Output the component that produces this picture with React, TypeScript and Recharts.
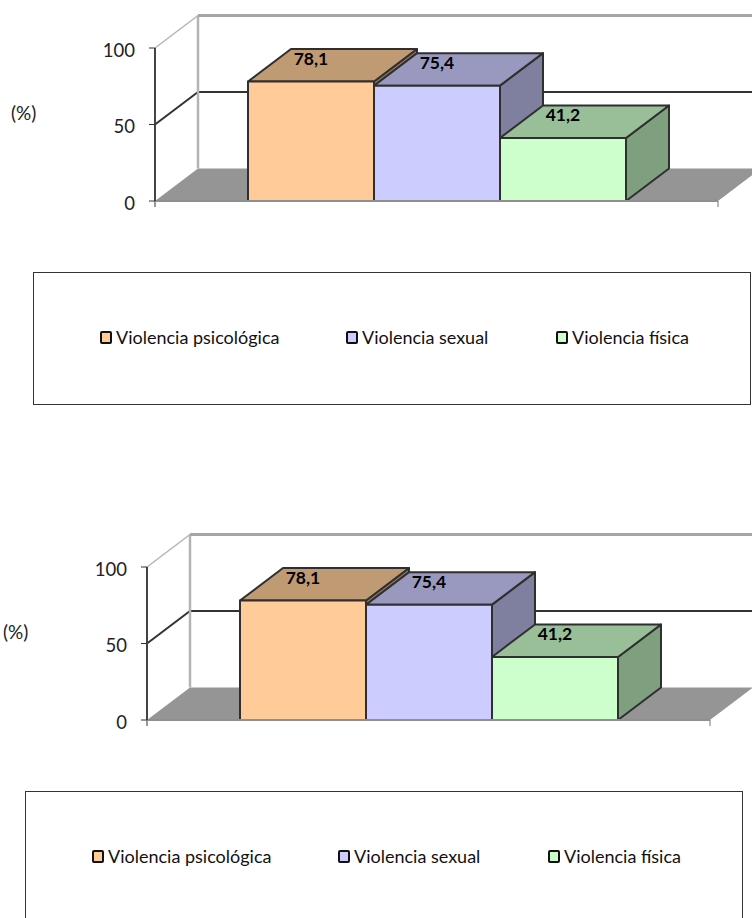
import React from "react";
import {
  Bar,
  BarChart,
  LabelList,
  Legend,
  ReferenceLine,
  XAxis,
  YAxis,
} from "recharts";

const categories = ["Violencia"];
const psicologica = [78.1];
const sexual = [75.4];
const fisica = [41.2];
const yTicks = [0, 50, 100];

const chartData = categories.map((name, i) => ({
  name,
  psicologica: psicologica[i],
  sexual: sexual[i],
  fisica: fisica[i],
}));

const FONT = "Lato, 'Open Sans', sans-serif";
// 3d depth of the excel style box
const DX = 43;
const DY = -32.5;
const PLOT_TOP = 48;
const PLOT_BOTTOM = 201;
const LEGEND_H = 133;
const CHART_W = 760;
const CHART_H = PLOT_BOTTOM + 71 + LEGEND_H;

const Box3D = (props: any) => {
  const { x, y, width, height, fill, topFill, sideFill } = props;
  const r = x + width;
  const b = y + height;
  const line = { stroke: "#2f2f2f", strokeWidth: 2, strokeLinejoin: "round" as const };
  return (
    <g>
      <polygon
        points={`${r},${y} ${r + DX},${y + DY} ${r + DX},${b + DY} ${r},${b}`}
        fill={sideFill}
        {...line}
      />
      <polygon
        points={`${x},${y} ${x + DX},${y + DY} ${r + DX},${y + DY} ${r},${y}`}
        fill={topFill}
        {...line}
      />
      <rect x={x} y={y} width={width} height={height} fill={fill} {...line} />
    </g>
  );
};

const FloorShape = ({ x1, y1, x2 }: any) => (
  <g>
    <polygon
      points={`${x1},${y1} ${x2},${y1} ${x2 + DX},${y1 + DY} ${x1 + DX},${y1 + DY}`}
      fill="#959595"
    />
    <line x1={x2} y1={y1} x2={x2} y2={y1 + 6} stroke="#777" strokeWidth={1} />
    <line x1={x1} y1={y1} x2={x1} y2={y1 + 6} stroke="#333" strokeWidth={1} />
  </g>
);

const GridShape = ({ x1, y1, x2 }: any) => (
  <g fill="none" stroke="#333" strokeWidth={2}>
    <polyline points={`${x1},${y1} ${x1 + DX},${y1 + DY} ${x2 + DX},${y1 + DY}`} />
  </g>
);

const TopShape = ({ x1, y1, x2 }: any) => (
  <g fill="none">
    <line
      x1={x1 + DX}
      y1={y1 + DY}
      x2={x1 + DX}
      y2={y1 + DY + (PLOT_BOTTOM - PLOT_TOP)}
      stroke="#b4b4b4"
      strokeWidth={2.5}
    />
    <line x1={x1} y1={y1} x2={x1 + DX} y2={y1 + DY} stroke="#b4b4b4" strokeWidth={1.5} />
    <line x1={x1 + DX} y1={y1 + DY} x2={x2 + DX} y2={y1 + DY} stroke="#a6a6a6" strokeWidth={3} />
  </g>
);

const LegendBox = ({ payload }: any) => {
  const slots = [67, 313, 523];
  return (
    <div
      style={{
        position: "relative",
        boxSizing: "border-box",
        height: LEGEND_H,
        border: "1px solid #333",
        background: "#fff",
        fontFamily: FONT,
        fontSize: 18,
        color: "#111",
      }}
    >
      {(payload || []).map((item: any, i: number) => (
        <div
          key={item.value}
          style={{
            position: "absolute",
            left: slots[i] - 1,
            top: 53,
            display: "flex",
            alignItems: "center",
            height: 22,
            whiteSpace: "nowrap",
          }}
        >
          <span
            style={{
              display: "inline-block",
              boxSizing: "border-box",
              width: 12,
              height: 13,
              marginRight: 4,
              background: item.color,
              border: "2px solid #111",
              borderRadius: 2,
            }}
          />
          {item.value}
        </div>
      ))}
    </div>
  );
};

const comma = (v: any) => String(v).replace(".", ",");

const labelStyle = {
  fontFamily: FONT,
  fontSize: 17.5,
  fontWeight: 700,
  fill: "#000",
};

const Chart3D = ({ left, top }: { left: number; top: number }) => (
  <div style={{ position: "absolute", left, top }}>
    <BarChart
      width={CHART_W}
      height={CHART_H}
      data={chartData}
      margin={{ top: PLOT_TOP, right: 42, bottom: 0, left: 0 }}
      barCategoryGap={93}
      barGap={0}
    >
      <ReferenceLine y={0} shape={FloorShape} zIndex={100} />
      <ReferenceLine y={50} shape={GridShape} zIndex={100} />
      <ReferenceLine y={100} shape={TopShape} zIndex={100} />
      <XAxis
        dataKey="name"
        height={71}
        tick={false}
        tickLine={false}
        axisLine={{ stroke: "#8f8f8f", strokeWidth: 2 }}
      />
      <YAxis
        width={155}
        domain={[0, 100]}
        ticks={yTicks}
        interval={0}
        tickSize={6}
        tickMargin={14}
        tick={{ fontFamily: FONT, fontSize: 18.5, fill: "#222", dy: 2 }}
        tickLine={{ stroke: "#333" }}
        axisLine={{ stroke: "#444", strokeWidth: 2 }}
        label={{
          value: "(%)",
          position: "insideLeft",
          dx: 6,
          dy: -11,
          style: { fontFamily: FONT, fontSize: 19, fill: "#222" },
        }}
      />
      <Legend
        verticalAlign="bottom"
        align="left"
        itemSorter={null}
        wrapperStyle={{ left: 33, width: 718 }}
        content={<LegendBox />}
      />
      <Bar
        dataKey="psicologica"
        name="Violencia psicológica"
        fill="#FFCC99"
        isAnimationActive={false}
        shape={(p: any) => <Box3D {...p} topFill="#C09A73" sideFill="#99795C" />}
      >
        <LabelList dataKey="psicologica" position="top" offset={17} formatter={comma} style={labelStyle} />
      </Bar>
      <Bar
        dataKey="sexual"
        name="Violencia sexual"
        fill="#CCCCFF"
        isAnimationActive={false}
        shape={(p: any) => <Box3D {...p} topFill="#9999BF" sideFill="#7F7FA0" />}
      >
        <LabelList dataKey="sexual" position="top" offset={17} formatter={comma} style={labelStyle} />
      </Bar>
      <Bar
        dataKey="fisica"
        name="Violencia física"
        fill="#CCFFCC"
        isAnimationActive={false}
        shape={(p: any) => <Box3D {...p} topFill="#99BF99" sideFill="#7FA07F" />}
      >
        <LabelList dataKey="fisica" position="top" offset={17} formatter={comma} style={labelStyle} />
      </Bar>
    </BarChart>
  </div>
);

export default function App() {
  return (
    <div
      style={{
        position: "fixed",
        left: 0,
        top: 0,
        width: 752,
        height: 918,
        overflow: "hidden",
        background: "#fff",
      }}
    >
      <Chart3D left={0} top={0} />
      <Chart3D left={-8} top={519} />
    </div>
  );
}
